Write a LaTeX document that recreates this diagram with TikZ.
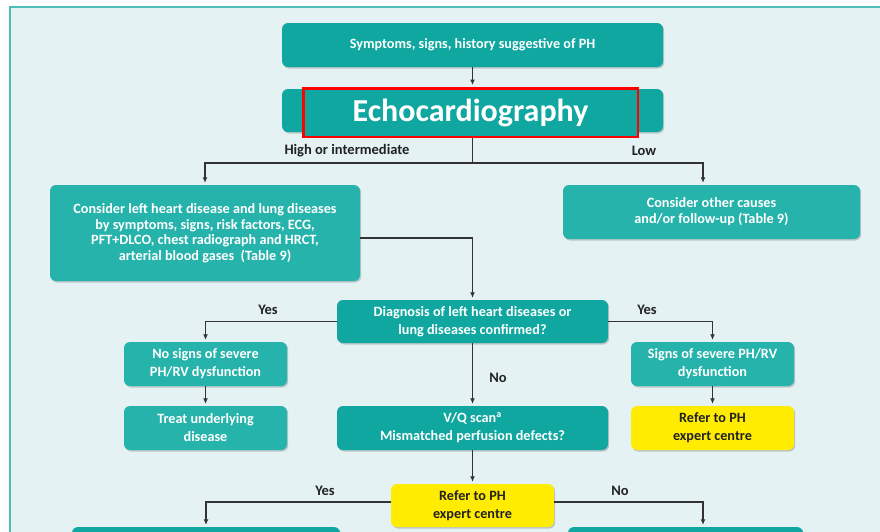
\documentclass[tikz,border=0pt]{standalone}
\usepackage{fontspec}
\setmainfont{Carlito}
\usetikzlibrary{arrows.meta,shadows}
\definecolor{bg}{HTML}{E4F2F3}
\definecolor{framec}{HTML}{4DBDB5}
\definecolor{tealA}{HTML}{0FA79F}
\definecolor{tealB}{HTML}{26B3AB}
\definecolor{ylw}{HTML}{FFEC00}
\definecolor{lin}{HTML}{333333}
\definecolor{txt}{HTML}{222222}
\tikzset{
 box/.style={rounded corners=6pt, align=center, text=white, inner sep=2pt,
   font=\bfseries\fontsize{14.2}{18}\selectfont,
   drop shadow={shadow xshift=1.2pt, shadow yshift=-1.5pt, opacity=0.18, fill=black}},
 dk/.style={box, fill=tealA},
 lt/.style={box, fill=tealB},
 yl/.style={box, fill=ylw, text=txt},
 lbl/.style={font=\bfseries\fontsize{14.5}{16}\selectfont, text=txt},
 arr/.style={draw=lin, line width=1.1pt, -{Latex[length=5.5pt,width=5pt]}, shorten >=2pt},
 ln/.style={draw=lin, line width=1.1pt},
}
\begin{document}
\begin{tikzpicture}[x=1pt,y=-1pt]
\useasboundingbox (0,0) rectangle (880,531);
\fill[white] (0,0) rectangle (880,531);
\draw[draw=framec, fill=bg, line width=1.5pt] (10,7) rectangle (895,545);

% nodes
\node[dk, minimum width=381pt, minimum height=44pt] (top) at (472.5,45) {Symptoms, signs, history suggestive of PH};
\node[dk, minimum width=381pt, minimum height=43pt] (echo) at (472.5,110.5) {};
\node[draw=red, line width=2.5pt, fill=tealA, minimum width=334.5pt, minimum height=48.5pt,
      font=\bfseries\fontsize{32}{34}\selectfont, text=white] (red) at (470.5,112.5) {Echocardiography};

\node[lt, minimum width=310pt, minimum height=96pt, font=\bfseries\fontsize{14.2}{15.5}\selectfont] (left1) at (205,233)
  {Consider left heart disease and lung diseases\\by symptoms, signs, risk factors, ECG,\\PFT+DLCO, chest radiograph and HRCT,\\arterial blood gases\ \ (Table 9)};
\node[lt, minimum width=297pt, minimum height=54pt, font=\bfseries\fontsize{14.2}{16}\selectfont] (right1) at (711.5,212)
  {Consider other causes\\and/or follow-up (Table 9)};

\node[dk, minimum width=271pt, minimum height=43pt] (diag) at (472.5,321.5)
  {Diagnosis of left heart diseases or\\lung diseases confirmed?};
\node[lt, minimum width=163pt, minimum height=44pt] (nosigns) at (205.5,364) {No signs of severe\\PH/RV dysfunction};
\node[lt, minimum width=163pt, minimum height=44pt] (treat) at (205.5,428) {Treat underlying\\disease};
\node[lt, minimum width=163pt, minimum height=44pt] (signs) at (712.5,364) {Signs of severe PH/RV\\dysfunction};
\node[yl, minimum width=163pt, minimum height=44pt] (refer1) at (712.5,428) {Refer to PH\\expert centre};
\node[dk, minimum width=271pt, minimum height=44pt] (vq) at (472.5,428) {V/Q scan\textsuperscript{a}\\Mismatched perfusion defects?};
\node[yl, minimum width=163pt, minimum height=43pt] (refer2) at (472.5,505.5) {Refer to PH\\expert centre};
\node[dk, minimum width=268pt, minimum height=66pt] (botL) at (206,560) {};
\node[dk, minimum width=235pt, minimum height=66pt] (botR) at (685.5,560) {};

% labels
\node[lbl] (lhi) at (347,151) {High or intermediate};
\node[lbl] (llow) at (644,151) {Low};
\node[lbl] (ly1) at (268,310) {Yes};
\node[lbl] (ly2) at (647,310) {Yes};
\node[lbl] (lno1) at (498,378) {No};
\node[lbl] (ly3) at (325,491) {Yes};
\node[lbl] (lno2) at (620,491) {No};

% connectors
\draw[arr] (top.south) -- (top.south |- red.north);
\coordinate (j1) at (472.5,163);
\draw[ln] (red.south -| top.south) -- (j1);
\draw[arr] (j1) -| (left1.north);
\draw[arr] (j1) -| ([xshift=-8.5pt]right1.north);
\draw[arr] ([yshift=-5pt]left1.east) -| (diag.north);
\draw[arr] (diag.west) -| (nosigns.north);
\draw[arr] (diag.east) -| (signs.north);
\draw[arr] (nosigns) -- (treat);
\draw[arr] (signs) -- (refer1);
\draw[arr] (diag) -- (vq);
\draw[arr] (vq) -- (refer2);
\draw[arr] ([yshift=3.5pt]refer2.west) -| (botL.north);
\draw[arr] ([yshift=3.5pt]refer2.east) -| ([xshift=17.5pt]botR.north);
\end{tikzpicture}
\end{document}
